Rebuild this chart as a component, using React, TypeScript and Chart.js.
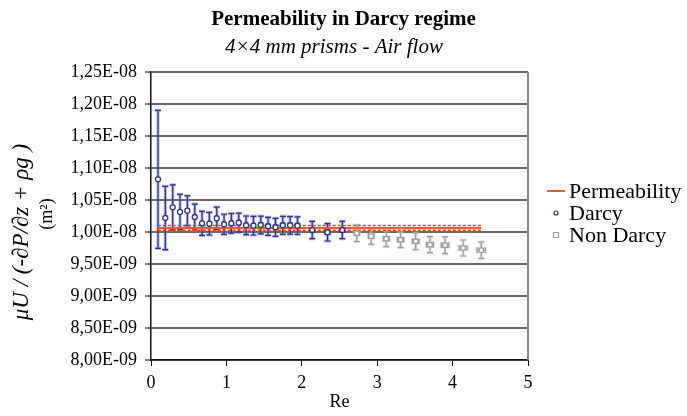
import { useEffect, useRef } from "react";
import { Chart, registerables } from "chart.js";

Chart.register(...registerables);

// ---- Data (permeability values in units of 1E-08 m²) ----
const darcyRe = [0.093, 0.19, 0.288, 0.385, 0.482, 0.58, 0.677, 0.774, 0.872, 0.969, 1.066, 1.164, 1.261, 1.359, 1.456, 1.553, 1.651, 1.748, 1.845, 1.943, 2.138, 2.341, 2.537];
const darcyK = [1.0823, 1.0219, 1.0385, 1.0313, 1.0333, 1.0234, 1.0135, 1.013, 1.0214, 1.012, 1.0135, 1.0146, 1.0104, 1.0099, 1.0109, 1.0089, 1.0073, 1.0104, 1.0104, 1.0099, 1.0031, 0.9995, 1.0031];
const darcyKErr = [0.1078, 0.0495, 0.0352, 0.0276, 0.0232, 0.0203, 0.0188, 0.0177, 0.0175, 0.0157, 0.0154, 0.0148, 0.0146, 0.0146, 0.0138, 0.0141, 0.0141, 0.0141, 0.0138, 0.0138, 0.0135, 0.0136, 0.0136];
const darcyReErr = [0.002, 0.003, 0.004, 0.005, 0.006, 0.008, 0.009, 0.01, 0.011, 0.012, 0.014, 0.015, 0.016, 0.017, 0.019, 0.02, 0.021, 0.022, 0.024, 0.025, 0.027, 0.03, 0.032];

const nonDarcyRe = [2.73, 2.92, 3.12, 3.31, 3.51, 3.7, 3.9, 4.14, 4.38];
const nonDarcyK = [0.9979, 0.9932, 0.9896, 0.988, 0.9854, 0.9802, 0.9792, 0.975, 0.9714];
const nonDarcyKErr = [0.013, 0.0125, 0.0125, 0.0123, 0.013, 0.0125, 0.0131, 0.0125, 0.0128];
const nonDarcyReErr = [0.035, 0.037, 0.039, 0.041, 0.044, 0.046, 0.049, 0.052, 0.055];

const permRe = [0.09, 4.38];
const permK = 1.0064;
const permBand = 0.0037;

const xTickValues = [0, 1, 2, 3, 4, 5];
const yMin = 0.8;
const yMax = 1.25;
const yStep = 0.05;

const titleText = "Permeability in Darcy regime";
const subtitleText = "4×4 mm prisms - Air flow";
const xTitle = "Re";
const yTitle1 = "μU / (-∂P/∂z + ρg )";
const yTitle2 = "(m²)";
const legendLabels = ["Permeability", "Darcy", "Non Darcy"];

const SERIF = `"Liberation Serif", "DejaVu Serif", serif`;
const DARCY_COLOR = "#2b2f96";
const NON_DARCY_COLOR = "#9c9c9c";
const PERM_COLOR = "#ee5a2a";

function formatTick(v: number): string {
  const r = Math.round(v * 100) / 100;
  if (r >= 1 - 1e-9) return r.toFixed(2).replace(".", ",") + "E-08";
  return (r * 10).toFixed(2).replace(".", ",") + "E-09";
}

const errorBarPlugin = {
  id: "errorBars",
  beforeDatasetsDraw(chart: any) {
    const { ctx, scales } = chart;
    const x = scales.x;
    const y = scales.y;
    const drawSet = (xs: number[], ys: number[], ye: number[], xe: number[], halo: string, core: string) => {
      for (let i = 0; i < xs.length; i++) {
        const px = x.getPixelForValue(xs[i]);
        const py = y.getPixelForValue(ys[i]);
        const pTop = y.getPixelForValue(ys[i] + ye[i]);
        const pBot = y.getPixelForValue(ys[i] - ye[i]);
        const pL = x.getPixelForValue(xs[i] - xe[i]);
        const pR = x.getPixelForValue(xs[i] + xe[i]);
        const cap = 3;
        for (const [col, w] of [[halo, 3], [core, 1.2]] as [string, number][]) {
          ctx.save();
          ctx.strokeStyle = col;
          ctx.lineWidth = w;
          ctx.beginPath();
          ctx.moveTo(px, pTop);
          ctx.lineTo(px, pBot);
          ctx.moveTo(px - cap, pTop);
          ctx.lineTo(px + cap, pTop);
          ctx.moveTo(px - cap, pBot);
          ctx.lineTo(px + cap, pBot);
          if (pR - pL > 1) {
            ctx.moveTo(pL, py);
            ctx.lineTo(pR, py);
            ctx.moveTo(pL, py - cap);
            ctx.lineTo(pL, py + cap);
            ctx.moveTo(pR, py - cap);
            ctx.lineTo(pR, py + cap);
          }
          ctx.stroke();
          ctx.restore();
        }
      }
    };
    drawSet(darcyRe, darcyK, darcyKErr, darcyReErr, "rgba(120,126,205,0.6)", DARCY_COLOR);
    drawSet(nonDarcyRe, nonDarcyK, nonDarcyKErr, nonDarcyReErr, "rgba(200,200,200,0.6)", NON_DARCY_COLOR);
  },
};

const decorPlugin = {
  id: "decor",
  afterDraw(chart: any) {
    const { ctx, chartArea } = chart;
    ctx.save();
    ctx.strokeStyle = "#8a8a8a";
    ctx.lineWidth = 2;
    ctx.beginPath();
    ctx.moveTo(chartArea.right, chartArea.top);
    ctx.lineTo(chartArea.right, chartArea.bottom);
    ctx.stroke();

    ctx.fillStyle = "#000";
    ctx.textAlign = "center";
    ctx.textBaseline = "alphabetic";
    ctx.font = `bold 21px ${SERIF}`;
    ctx.fillText(titleText, 343.5, 25);
    ctx.font = `italic 21px ${SERIF}`;
    ctx.fillText(subtitleText, 334, 53);

    ctx.font = `18px ${SERIF}`;
    ctx.fillText(xTitle, (chartArea.left + chartArea.right) / 2, 407);

    ctx.save();
    ctx.translate(22, 232);
    ctx.rotate(-Math.PI / 2);
    ctx.textBaseline = "middle";
    ctx.font = `italic 23px ${SERIF}`;
    ctx.fillText(yTitle1, 0, 0);
    ctx.restore();
    ctx.save();
    ctx.translate(47, 214);
    ctx.rotate(-Math.PI / 2);
    ctx.textBaseline = "middle";
    ctx.font = `18px ${SERIF}`;
    ctx.fillText(yTitle2, 0, 0);
    ctx.restore();

    const rows = [191, 213, 235];
    const mx = 556;
    ctx.strokeStyle = PERM_COLOR;
    ctx.lineWidth = 2;
    ctx.beginPath();
    ctx.moveTo(547, rows[0]);
    ctx.lineTo(565, rows[0]);
    ctx.stroke();

    ctx.strokeStyle = DARCY_COLOR;
    ctx.fillStyle = "#fff";
    ctx.lineWidth = 1.2;
    ctx.beginPath();
    ctx.arc(mx, rows[1], 2, 0, Math.PI * 2);
    ctx.fill();
    ctx.stroke();

    ctx.strokeStyle = NON_DARCY_COLOR;
    ctx.beginPath();
    ctx.rect(mx - 2.5, rows[2] - 2.5, 5, 5);
    ctx.fill();
    ctx.stroke();

    ctx.fillStyle = "#000";
    ctx.textAlign = "left";
    ctx.textBaseline = "middle";
    ctx.font = `22px ${SERIF}`;
    legendLabels.forEach((t, i) => ctx.fillText(t, 569, rows[i] + 1));
    ctx.restore();
  },
};

export default function App() {
  const canvasRef = useRef<HTMLCanvasElement | null>(null);

  useEffect(() => {
    if (!canvasRef.current) return;
    let chart: Chart | null = null;
    let cancelled = false;
    const pts = (xs: number[], ys: number[]) => xs.map((v, i) => ({ x: v, y: ys[i] }));
    const lineAt = (k: number) => permRe.map((v) => ({ x: v, y: k }));

    const build = () => {
      if (cancelled || !canvasRef.current) return;
      chart = new Chart(canvasRef.current, {
        type: "scatter",
        data: {
          datasets: [
            {
              label: "Darcy",
              data: pts(darcyRe, darcyK),
              pointStyle: "circle",
              pointRadius: 2.5,
              pointBorderWidth: 1.3,
              borderColor: DARCY_COLOR,
              backgroundColor: "#ffffff",
              order: 0,
            } as any,
            {
              label: "Non Darcy",
              data: pts(nonDarcyRe, nonDarcyK),
              pointStyle: "rect",
              pointRadius: 3,
              pointBorderWidth: 1.2,
              borderColor: NON_DARCY_COLOR,
              backgroundColor: "#ffffff",
              order: 1,
            } as any,
            {
              label: "Permeability",
              data: lineAt(permK),
              showLine: true,
              borderColor: PERM_COLOR,
              borderWidth: 2,
              pointRadius: 0,
              order: 2,
            } as any,
            {
              label: "upper",
              data: lineAt(permK + permBand),
              showLine: true,
              borderColor: "#e8431c",
              borderWidth: 1.5,
              borderDash: [3, 2],
              pointRadius: 0,
              order: 3,
            } as any,
            {
              label: "lower",
              data: lineAt(permK - permBand),
              showLine: true,
              borderColor: "#e8431c",
              borderWidth: 1.5,
              borderDash: [3, 2],
              pointRadius: 0,
              order: 4,
            } as any,
          ],
        },
        options: {
          responsive: false,
          animation: false,
          events: [],
          layout: { padding: { left: 0, top: 72, right: 159, bottom: 0 } },
          plugins: {
            legend: { display: false },
            title: { display: false },
            tooltip: { enabled: false },
          },
          scales: {
            x: {
              type: "linear",
              min: 0,
              max: 5,
              afterFit: (s: any) => {
                s.height = 56;
              },
              afterBuildTicks: (s: any) => {
                s.ticks = xTickValues.map((v) => ({ value: v }));
              },
              ticks: {
                padding: 6,
                color: "#000",
                font: { family: SERIF, size: 18 },
                maxRotation: 0,
                callback: (v: any) => String(v),
              },
              grid: {
                drawOnChartArea: false,
                drawTicks: true,
                tickLength: 6,
                tickColor: "#000",
                tickWidth: 1,
              },
              border: { display: true, color: "#111", width: 1.5 },
            },
            y: {
              type: "linear",
              min: yMin,
              max: yMax,
              afterFit: (s: any) => {
                s.width = 151;
              },
              ticks: {
                stepSize: yStep,
                padding: 8,
                color: "#000",
                font: { family: SERIF, size: 18 },
                callback: (v: any) => formatTick(Number(v)),
              },
              grid: {
                color: "#6a6a6a",
                lineWidth: 2,
                drawTicks: true,
                tickLength: 6,
                tickColor: "#000",
                tickWidth: 1,
              },
              border: { display: true, color: "#111", width: 1.5 },
            },
          },
        },
        plugins: [errorBarPlugin, decorPlugin],
      });
    };

    const fontsReady = (document as any).fonts
      ? Promise.all([
          (document as any).fonts.load(`20px "Liberation Serif"`),
          (document as any).fonts.load(`italic 20px "Liberation Serif"`),
          (document as any).fonts.load(`bold 20px "Liberation Serif"`),
        ]).catch(() => null)
      : Promise.resolve(null);
    fontsReady.then(build);

    return () => {
      cancelled = true;
      if (chart) chart.destroy();
    };
  }, []);

  return (
    <div style={{ position: "absolute", left: 0, top: 0, width: 687, height: 416, background: "#fff" }}>
      <canvas ref={canvasRef} width={687} height={416} style={{ display: "block" }} />
    </div>
  );
}
